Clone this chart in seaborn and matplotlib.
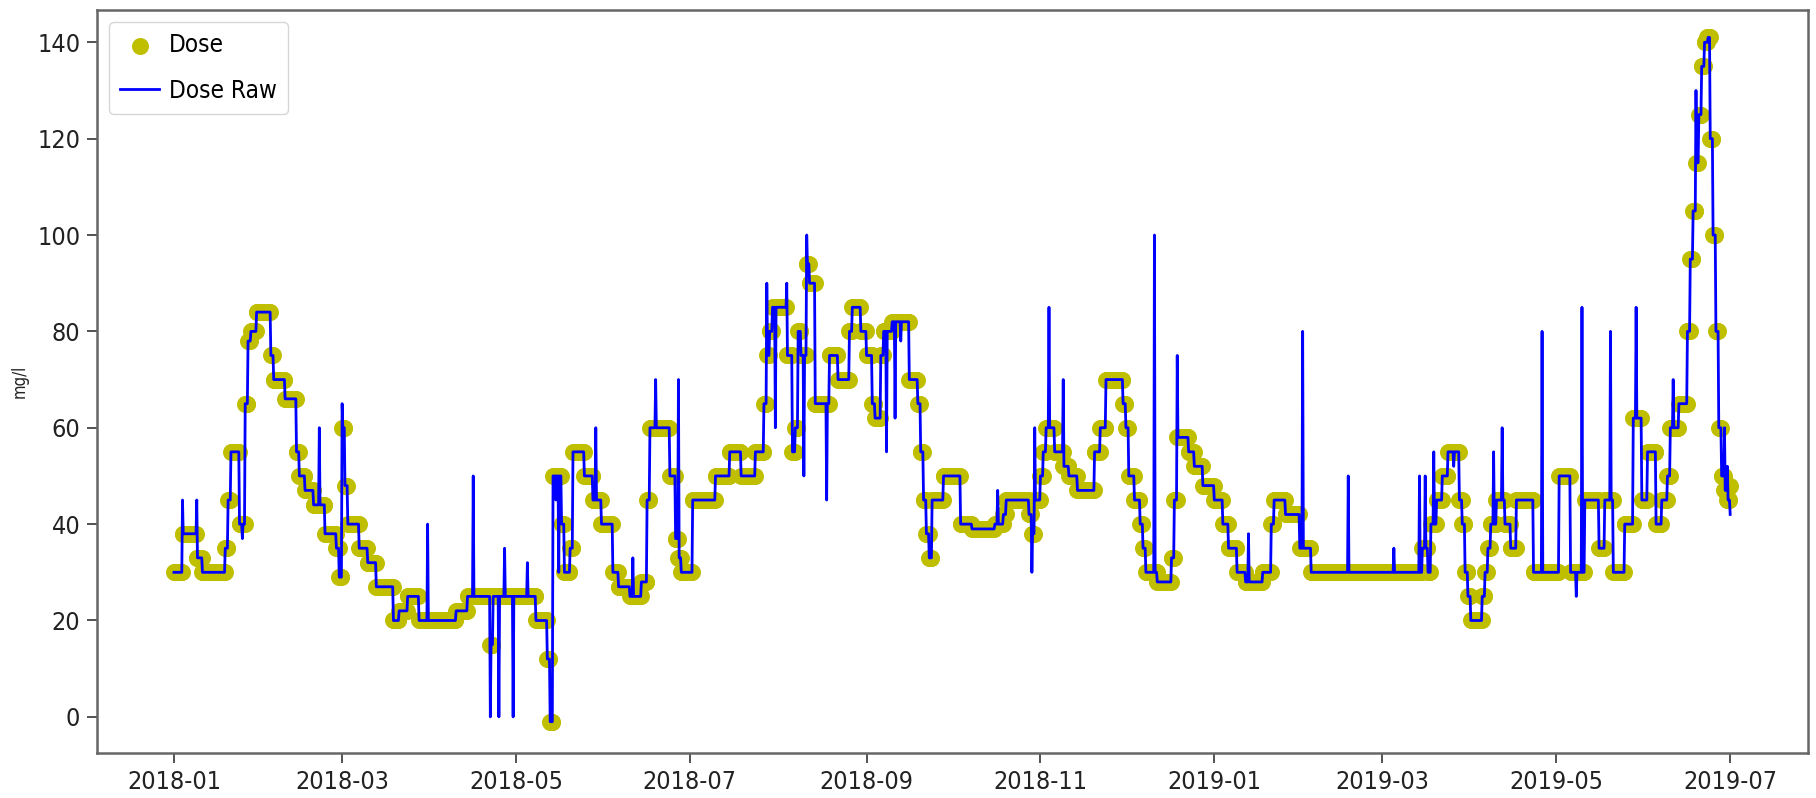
import matplotlib
matplotlib.use("Agg")
import matplotlib.pyplot as plt
from matplotlib import font_manager
import numpy as np
import pandas as pd
import seaborn as sns

# Dose: level changes (date the new level starts, level in mg/l)
dose_dates = [
    "2018-01-01", "2018-01-04", "2018-01-09", "2018-01-11", "2018-01-19", "2018-01-20",
    "2018-01-21", "2018-01-24", "2018-01-26", "2018-01-27", "2018-01-28", "2018-01-30",
    "2018-02-04", "2018-02-05", "2018-02-09", "2018-02-13", "2018-02-14", "2018-02-16",
    "2018-02-19", "2018-02-23", "2018-02-27", "2018-02-28", "2018-03-01", "2018-03-02",
    "2018-03-03", "2018-03-07", "2018-03-10", "2018-03-13", "2018-03-19", "2018-03-21",
    "2018-03-24", "2018-03-28", "2018-04-10", "2018-04-14", "2018-04-22", "2018-04-23",
    "2018-05-08", "2018-05-12", "2018-05-13", "2018-05-14", "2018-05-17", "2018-05-18",
    "2018-05-20", "2018-05-21", "2018-05-25", "2018-05-28", "2018-05-31", "2018-06-04",
    "2018-06-06", "2018-06-10", "2018-06-14", "2018-06-16", "2018-06-17", "2018-06-24",
    "2018-06-26", "2018-06-27", "2018-06-28", "2018-07-02", "2018-07-10", "2018-07-15",
    "2018-07-19", "2018-07-24", "2018-07-27", "2018-07-28", "2018-07-29", "2018-07-30",
    "2018-08-04", "2018-08-06", "2018-08-07", "2018-08-08", "2018-08-09", "2018-08-11",
    "2018-08-12", "2018-08-14", "2018-08-19", "2018-08-22", "2018-08-26", "2018-08-27",
    "2018-08-30", "2018-09-01", "2018-09-03", "2018-09-04", "2018-09-06", "2018-09-07",
    "2018-09-10", "2018-09-16", "2018-09-19", "2018-09-20", "2018-09-21", "2018-09-22",
    "2018-09-23", "2018-09-24", "2018-09-28", "2018-10-04", "2018-10-08", "2018-10-16",
    "2018-10-19", "2018-10-20", "2018-10-28", "2018-10-29", "2018-10-30", "2018-11-01",
    "2018-11-02", "2018-11-03", "2018-11-06", "2018-11-09", "2018-11-11", "2018-11-14",
    "2018-11-20", "2018-11-22", "2018-11-24", "2018-11-30", "2018-12-01", "2018-12-02",
    "2018-12-04", "2018-12-06", "2018-12-07", "2018-12-08", "2018-12-12", "2018-12-17",
    "2018-12-18", "2018-12-19", "2018-12-23", "2018-12-25", "2018-12-28", "2019-01-01",
    "2019-01-04", "2019-01-06", "2019-01-09", "2019-01-12", "2019-01-18", "2019-01-21",
    "2019-01-22", "2019-01-26", "2019-01-31", "2019-02-04", "2019-03-15", "2019-03-17",
    "2019-03-18", "2019-03-20", "2019-03-22", "2019-03-24", "2019-03-28", "2019-03-29",
    "2019-03-30", "2019-03-31", "2019-04-01", "2019-04-05", "2019-04-06", "2019-04-07",
    "2019-04-08", "2019-04-10", "2019-04-13", "2019-04-15", "2019-04-17", "2019-04-23",
    "2019-05-02", "2019-05-06", "2019-05-11", "2019-05-16", "2019-05-18", "2019-05-21",
    "2019-05-25", "2019-05-28", "2019-05-31", "2019-06-02", "2019-06-05", "2019-06-07",
    "2019-06-09", "2019-06-10", "2019-06-13", "2019-06-16", "2019-06-17", "2019-06-18",
    "2019-06-19", "2019-06-20", "2019-06-21", "2019-06-22", "2019-06-23", "2019-06-24",
    "2019-06-25", "2019-06-26", "2019-06-27", "2019-06-28", "2019-06-29", "2019-06-30",
    "2019-07-01",
]
dose_levels = [
    30, 38, 33, 30, 35, 45,
    55, 40, 65, 78, 80, 84,
    75, 70, 66, 55, 50, 47,
    44, 38, 35, 29, 60, 48,
    40, 35, 32, 27, 20, 22,
    25, 20, 22, 25, 15, 25,
    20, 12, -1, 50, 40, 30,
    35, 55, 50, 45, 40, 30,
    27, 25, 28, 45, 60, 50,
    37, 33, 30, 45, 50, 55,
    50, 55, 65, 75, 80, 85,
    75, 55, 60, 80, 75, 94,
    90, 65, 75, 70, 80, 85,
    80, 75, 65, 62, 75, 80,
    82, 70, 65, 55, 45, 38,
    33, 45, 50, 40, 39, 40,
    42, 45, 42, 38, 45, 50,
    55, 60, 55, 52, 50, 47,
    55, 60, 70, 65, 60, 50,
    45, 40, 35, 30, 28, 33,
    45, 58, 55, 52, 48, 45,
    40, 35, 30, 28, 30, 40,
    45, 42, 35, 30, 35, 30,
    40, 45, 50, 55, 45, 40,
    30, 25, 20, 25, 30, 35,
    40, 45, 40, 35, 45, 30,
    50, 30, 45, 35, 45, 30,
    40, 62, 45, 55, 40, 45,
    50, 60, 65, 80, 95, 105,
    115, 125, 135, 140, 141, 120,
    100, 80, 60, 50, 47, 45,
    48,
]

# Dose Raw: single readings that depart from the dose level
raw_dates = [
    "2018-01-04", "2018-01-09", "2018-01-25", "2018-02-21", "2018-03-01", "2018-03-31",
    "2018-04-16", "2018-04-22", "2018-04-25", "2018-04-27", "2018-04-30", "2018-05-05",
    "2018-05-15", "2018-05-16", "2018-05-29", "2018-06-11", "2018-06-19", "2018-06-27",
    "2018-07-28", "2018-07-31", "2018-08-04", "2018-08-10", "2018-08-11", "2018-08-18",
    "2018-09-08", "2018-09-11", "2018-09-13", "2018-10-17", "2018-10-29", "2018-10-30",
    "2018-11-04", "2018-11-09", "2018-12-11", "2018-12-19", "2019-01-13", "2019-02-01",
    "2019-02-17", "2019-03-05", "2019-03-14", "2019-03-16", "2019-03-19", "2019-03-26",
    "2019-04-09", "2019-04-12", "2019-04-26", "2019-05-08", "2019-05-10", "2019-05-20",
    "2019-05-29", "2019-06-11", "2019-06-19", "2019-06-23", "2019-06-29", "2019-06-30",
    "2019-07-01",
]
raw_values = [
    45, 45, 37, 60, 65, 40,
    50, 0, 0, 35, 0, 32,
    45, 30, 60, 33, 70, 70,
    90, 60, 90, 50, 100, 45,
    55, 62, 78, 47, 30, 60,
    85, 70, 100, 75, 38, 80,
    50, 35, 50, 50, 55, 52,
    55, 60, 80, 25, 85, 80,
    85, 70, 130, 140, 60, 52,
    42,
]

x_tick_labels = ["2018-01", "2018-03", "2018-05", "2018-07", "2018-09",
                 "2018-11", "2019-01", "2019-03", "2019-05", "2019-07"]
y_ticks = [0, 20, 40, 60, 80, 100, 120, 140]

# six-hourly series: the dose holds its level, raw readings replace single samples
stamps = pd.date_range("2018-01-01", "2019-07-01", freq="6h")
dose = pd.Series(dose_levels, index=pd.to_datetime(dose_dates), dtype=float)
dose = dose.reindex(stamps).ffill()
raw = dose.copy()
raw.loc[pd.to_datetime(raw_dates)] = raw_values
df = pd.DataFrame({"date": stamps, "Dose": dose.values, "Dose Raw": raw.values})


def pick_font():
    entries = font_manager.fontManager.ttflist
    names = {f.name for f in entries}
    if "Liberation Sans Narrow" in names:
        return "Liberation Sans Narrow", "normal"
    for f in entries:
        if f.name == "DejaVu Sans" and str(f.stretch) in ("condensed", "semi-condensed"):
            return "DejaVu Sans", "condensed"
    return "Liberation Sans", "normal"


main_font, stretch = pick_font()
plt.rcParams["font.family"] = [main_font, "DejaVu Sans"]
plt.rcParams["font.stretch"] = stretch
narrow = main_font != "Liberation Sans"
tick_size = 18 if narrow else 15
legend_size = 17.5 if narrow else 14.5

fig = plt.figure(figsize=(18.16, 7.98), dpi=100)
ax = fig.add_axes([97 / 1816, 45 / 798, 1711 / 1816, 743 / 798])

sns.scatterplot(data=df, x="date", y="Dose", color="y", s=150, linewidth=0,
                ax=ax, label="Dose", zorder=1)
sns.lineplot(data=df, x="date", y="Dose Raw", color="b", lw=2.0,
             ax=ax, label="Dose Raw", zorder=2)

start = pd.Timestamp("2018-01-01")
ax.set_xlim(start - pd.Timedelta(days=27), start + pd.Timedelta(days=573.3))
ax.set_ylim(-7.5, 146.7)
ax.set_xticks(pd.to_datetime([s + "-01" for s in x_tick_labels]))
ax.set_xticklabels(x_tick_labels)
ax.set_yticks(y_ticks)
ax.set_yticklabels([str(v) for v in y_ticks])
ax.tick_params(axis="both", labelsize=tick_size, length=7, width=1.3,
               color="#444444", labelcolor="#222222", pad=5)

ax.set_xlabel("")
ax.set_ylabel("mg/l", fontsize=12, color="#222222")
ax.yaxis.set_label_coords(-0.040, 0.5)

for side in ["left", "right", "top", "bottom"]:
    ax.spines[side].set_color("#666666")
    ax.spines[side].set_linewidth(1.8)

handles, labels = ax.get_legend_handles_labels()
ax.legend(handles, labels, loc="upper left", fontsize=legend_size, borderpad=0.45,
          handlelength=1.6, handletextpad=0.4, labelspacing=0.9,
          borderaxespad=0.5)

fig.savefig("out.png", dpi=100)
